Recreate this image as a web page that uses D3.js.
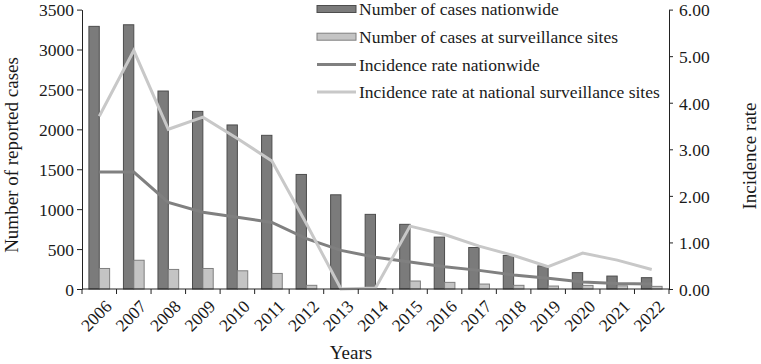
<!DOCTYPE html>
<html>
<head>
<meta charset="utf-8">
<script src="https://cdn.jsdelivr.net/npm/d3@7"></script>
<style>
  body { margin: 0; background: #fff; }
  svg text { font-family: "Liberation Serif", "Times New Roman", serif; fill: #1a1a1a; }
</style>
</head>
<body>
<div id="chart"></div>
<script>
// reported cases and incidence by year, nationwide vs surveillance sites
const years = ["2006", "2007", "2008", "2009", "2010", "2011", "2012", "2013", "2014",
  "2015", "2016", "2017", "2018", "2019", "2020", "2021", "2022"];
const casesNationwide = [3290, 3310, 2480, 2225, 2055, 1925, 1435, 1180, 935,
  810, 650, 520, 420, 290, 205, 162, 142];
const casesSites = [257, 360, 245, 257, 228, 195, 46, 0, 4,
  100, 83, 62, 46, 37, 45, 40, 33];
const rateNationwide = [2.51, 2.51, 1.86, 1.65, 1.54, 1.43, 1.08, 0.83, 0.68,
  0.58, 0.48, 0.40, 0.30, 0.23, 0.15, 0.12, 0.11];
const rateSites = [3.71, 5.12, 3.43, 3.69, 3.23, 2.75, 1.40, 0.00, 0.02,
  1.35, 1.17, 0.92, 0.72, 0.48, 0.77, 0.62, 0.42];
const leftTicks = [0, 500, 1000, 1500, 2000, 2500, 3000, 3500];
const rightTicks = [0, 1, 2, 3, 4, 5, 6];
const legendLabels = ["Number of cases nationwide", "Number of cases at surveillance sites",
  "Incidence rate nationwide", "Incidence rate at national surveillance sites"];

const W = 761, H = 364;
const margin = { top: 9.6, right: 92, bottom: 75, left: 82 };
const width = W - margin.left - margin.right;
const height = H - margin.top - margin.bottom;

const darkFill = "#7b7b7b", darkStroke = "#4d4d4d";
const lightFill = "#c4c4c4", lightStroke = "#7f7f7f";
const darkLine = "#808080", lightLine = "#c8c8c8";

const svg = d3.select("#chart").append("svg")
  .attr("width", W).attr("height", H);
const g = svg.append("g")
  .attr("transform", `translate(${margin.left},${margin.top})`);

const x = d3.scaleBand().domain(years).range([0, width])
  .paddingInner(0.4).paddingOuter(0.2);
const xs = d3.scaleBand().domain(["n", "s"]).range([0, x.bandwidth()]);
const y = d3.scaleLinear().domain([0, 3500]).range([height, 0]);
const y2 = d3.scaleLinear().domain([0, 6]).range([height, 0]);

// bars
const grp = g.selectAll(".yr").data(years).enter().append("g")
  .attr("transform", d => `translate(${x(d)},0)`);
grp.append("rect")
  .attr("x", xs("n")).attr("width", xs.bandwidth())
  .attr("y", (d, i) => y(casesNationwide[i]))
  .attr("height", (d, i) => height - y(casesNationwide[i]))
  .attr("fill", darkFill).attr("stroke", darkStroke).attr("stroke-width", 1);
grp.append("rect")
  .attr("x", xs("s")).attr("width", xs.bandwidth())
  .attr("y", (d, i) => y(casesSites[i]))
  .attr("height", (d, i) => height - y(casesSites[i]))
  .attr("fill", lightFill).attr("stroke", lightStroke).attr("stroke-width", 1);

// lines
const cx = d => x(d) + x.bandwidth() / 2;
const line = arr => d3.line().x((d, i) => cx(years[i])).y(d => y2(d))(arr);
g.append("path").attr("d", line(rateNationwide))
  .attr("fill", "none").attr("stroke", darkLine).attr("stroke-width", 3);
g.append("path").attr("d", line(rateSites))
  .attr("fill", "none").attr("stroke", lightLine).attr("stroke-width", 3);

// axes
const fs = "17.5px";
const yAxis = g.append("g").call(d3.axisLeft(y).tickValues(leftTicks).tickSize(5).tickSizeOuter(0).tickFormat(d3.format("d")));
yAxis.selectAll("text").style("font-size", fs).attr("x", -8).attr("dy", "0.36em");
const y2Axis = g.append("g").attr("transform", `translate(${width},0)`)
  .call(d3.axisRight(y2).tickValues(rightTicks).tickSize(4).tickSizeOuter(0).tickFormat(d3.format(".2f")));
y2Axis.selectAll("text").style("font-size", fs).attr("x", 10).attr("dy", "0.36em");

const xAxis = g.append("g").attr("transform", `translate(0,${height})`);
xAxis.append("line").attr("x1", 0).attr("x2", width).attr("stroke", "#222");
const bounds = d3.range(years.length + 1).map(i => i * x.step());
xAxis.selectAll(".tk").data(bounds).enter().append("line")
  .attr("x1", d => d).attr("x2", d => d).attr("y1", 0).attr("y2", 5).attr("stroke", "#222");
xAxis.selectAll(".lb").data(years).enter().append("text")
  .attr("transform", d => `translate(${cx(d) + 5},${10}) rotate(-45)`)
  .attr("text-anchor", "end").attr("dy", "0.7em")
  .style("font-size", fs).text(d => d);

[yAxis, y2Axis].forEach(a => a.selectAll("path, line").attr("stroke", "#222"));

// titles
svg.append("text").attr("transform", `translate(18,${155}) rotate(-90)`)
  .attr("text-anchor", "middle").style("font-size", "19px").text("Number of reported cases");
svg.append("text").attr("transform", `translate(756,${156}) rotate(-90)`)
  .attr("text-anchor", "middle").style("font-size", "19px").text("Incidence rate");
svg.append("text").attr("x", 351).attr("y", 359)
  .attr("text-anchor", "middle").style("font-size", "19px").text("Years");

// legend
const leg = svg.append("g").attr("transform", "translate(317,0)");
legendLabels.forEach((lab, i) => {
  const ly = 9 + i * 27.7;
  if (i < 2) {
    leg.append("rect").attr("x", 0).attr("y", ly - 3.5).attr("width", 39).attr("height", 7)
      .attr("fill", i === 0 ? darkFill : lightFill).attr("stroke", i === 0 ? darkStroke : lightStroke);
  } else {
    leg.append("line").attr("x1", 0).attr("x2", 39).attr("y1", ly).attr("y2", ly)
      .attr("stroke", i === 2 ? darkLine : lightLine).attr("stroke-width", 3);
  }
  leg.append("text").attr("x", 42).attr("y", ly).attr("dy", "0.35em")
    .style("font-size", "17.5px").text(lab);
});
</script>
</body>
</html>
